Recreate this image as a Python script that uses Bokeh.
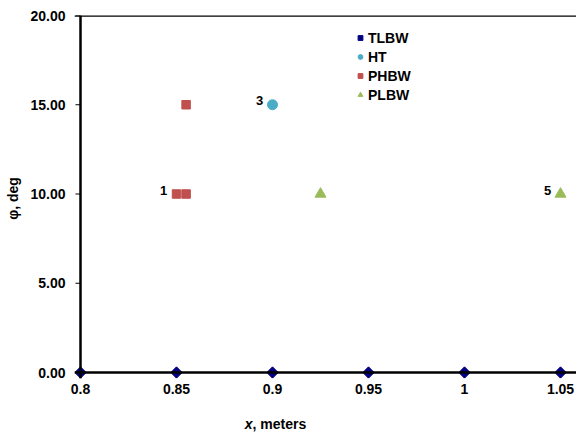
from bokeh.plotting import figure
from bokeh.models import Range1d, Span, Label, Legend, LegendItem, FixedTicker, PrintfTickFormatter
from bokeh.core.properties import value
from bokeh.embed import file_html
from bokeh.resources import INLINE

# ---- data ----
tlbw_x = [0.8, 0.85, 0.9, 0.95, 1.0, 1.05]
tlbw_y = [0, 0, 0, 0, 0, 0]
ht_x = [0.9]
ht_y = [15]
phbw_x = [0.85, 0.855, 0.855]
phbw_y = [10, 10, 15]
plbw_x = [0.925, 1.05]
plbw_y = [10, 10]
note_x = [0.85, 0.9, 1.05]
note_y = [10, 15, 10]
note_text = ["1", "3", "5"]
x_ticks = [0.8, 0.85, 0.9, 0.95, 1.0, 1.05]
x_tick_labels = ["0.8", "0.85", "0.9", "0.95", "1", "1.05"]
y_ticks = [0, 5, 10, 15, 20]

FONT = "Liberation Sans"

p = figure(width=576, height=434, output_backend="svg", toolbar_location=None,
           x_range=Range1d(0.796875, 1.05833), y_range=Range1d(-0.336, 20),
           min_border_left=74, min_border_right=0, min_border_top=15, min_border_bottom=56)
p.outline_line_color = None
p.xgrid.visible = False
p.ygrid.visible = False
p.background_fill_color = "white"
p.border_fill_color = "white"

for ax in (p.xaxis[0], p.yaxis[0]):
    ax.axis_line_color = None
    ax.minor_tick_line_color = None
    ax.major_tick_line_color = "black"
    ax.major_label_text_font = FONT
    ax.major_label_text_font_style = "bold"
    ax.major_label_text_font_size = "14px"
    ax.major_label_text_color = "black"

p.xaxis.ticker = FixedTicker(ticks=x_ticks)
p.xaxis.major_label_overrides = {t: l for t, l in zip(x_ticks, x_tick_labels)}
p.xaxis.major_tick_in = 0
p.xaxis.major_tick_out = 0
p.xaxis.major_label_standoff = 5

p.yaxis.ticker = FixedTicker(ticks=y_ticks)
p.yaxis.formatter = PrintfTickFormatter(format="%.2f")
p.yaxis.major_tick_in = 0
p.yaxis.major_tick_out = 0
p.yaxis.major_label_standoff = 9

# frame lines
p.add_layout(Span(location=0.8, dimension="height", line_color="black", line_width=2.5))
p.add_layout(Span(location=0, dimension="width", line_color="black", line_width=2.5))
p.add_layout(Span(location=20, dimension="width", line_color="black", line_width=2.5))
for yt in y_ticks:
    p.segment(x0=[0.8 - 5 / 1920], x1=[0.8], y0=[yt], y1=[yt], line_color="black", line_width=1)

r1 = p.scatter(tlbw_x, tlbw_y, marker="square", angle=0.7854, size=8, color="#000080")
r2 = p.scatter(ht_x, ht_y, marker="circle", size=10, color="#4BACC6")
r3 = p.scatter(phbw_x, phbw_y, marker="square", size=8.5, color="#C0504D")
r4 = p.scatter(plbw_x, plbw_y, marker="triangle", size=11, color="#9BBB59")

p.text(note_x, note_y, text=note_text, x_offset=-13, y_offset=-4,
       text_font=value(FONT), text_font_style="bold", text_font_size="13px",
       text_align="center", text_baseline="middle", text_color="black")

legend = Legend(items=[LegendItem(label="TLBW", renderers=[r1]),
                       LegendItem(label="HT", renderers=[r2]),
                       LegendItem(label="PHBW", renderers=[r3]),
                       LegendItem(label="PLBW", renderers=[r4])],
                location=(280, 274), padding=0, margin=0, spacing=0,
                glyph_width=12, glyph_height=19, label_height=19, label_standoff=2,
                label_text_font=FONT, label_text_font_style="bold",
                label_text_font_size="14px", label_text_color="black",
                border_line_color=None, background_fill_alpha=0)
p.add_layout(legend, "center")

# axis titles, placed in the side panels (not clipped)
xl_x, xl_y = 0.8896, -2.86
yl_x, yl_y = 0.7646, 9.75
p.add_layout(Label(x=xl_x, y=xl_y, text="x",
                   text_font=FONT, text_font_style="bold italic", text_font_size="14px",
                   text_align="right", text_baseline="middle", text_color="black"), "below")
p.add_layout(Label(x=xl_x, y=xl_y, text=", meters",
                   text_font=FONT, text_font_style="bold", text_font_size="14px",
                   text_align="left", text_baseline="middle", text_color="black"), "below")
p.add_layout(Label(x=yl_x, y=yl_y, text="φ, deg",
                   text_font=FONT, text_font_style="bold", text_font_size="14px",
                   angle=1.5708, text_align="center", text_baseline="middle",
                   text_color="black"), "left")

open("out.html", "w").write(file_html(p, INLINE))
